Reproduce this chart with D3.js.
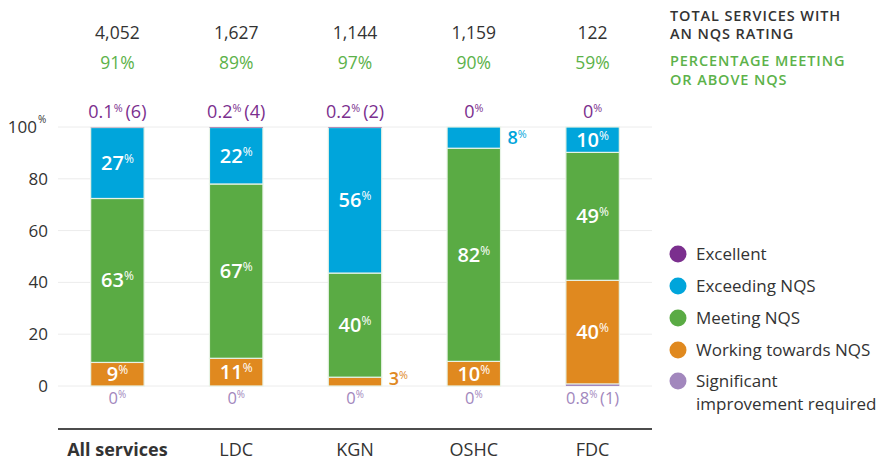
<!DOCTYPE html>
<html>
<head>
<meta charset="utf-8">
<script src="https://cdn.jsdelivr.net/npm/d3@7"></script>
<style>
  body { margin: 0; background: #fff; }
  svg { font-family: "Open Sans", sans-serif; }
</style>
</head>
<body>
<svg id="chart" width="883" height="462"></svg>
<script>
// data
const categories = ["All services", "LDC", "KGN", "OSHC", "FDC"];
const totalServices = ["4,052", "1,627", "1,144", "1,159", "122"];
const pctMeetingAbove = [91, 89, 97, 90, 59];

const significant = [0, 0, 0, 0, 0.8];
const working = [9.1, 10.7, 3.4, 9.5, 40.0];
const meeting = [63.3, 67.3, 40.2, 82.3, 49.4];
const exceeding = [27.4, 21.8, 56.2, 8.2, 9.8];
const excellent = [0.1, 0.2, 0.2, 0, 0];

const excellentCount = [6, 4, 2, 0, 0];
const significantCount = [0, 0, 0, 0, 1];

const yTicks = [0, 20, 40, 60, 80, 100];

const keys = ["significant", "working", "meeting", "exceeding", "excellent"];
const colors = {
  excellent: "#7b2f8e",
  exceeding: "#00a5db",
  meeting: "#5aab44",
  working: "#e0891f",
  significant: "#a287bd"
};
const legendItems = [
  { key: "excellent", lines: ["Excellent"] },
  { key: "exceeding", lines: ["Exceeding NQS"] },
  { key: "meeting", lines: ["Meeting NQS"] },
  { key: "working", lines: ["Working towards NQS"] },
  { key: "significant", lines: ["Significant", "improvement required"] }
];

const rows = categories.map((c, i) => ({
  cat: c,
  significant: significant[i],
  working: working[i],
  meeting: meeting[i],
  exceeding: exceeding[i],
  excellent: excellent[i]
}));

const svg = d3.select("#chart");

const x = d3.scaleBand().domain(categories).range([58, 652])
  .paddingInner(0.55).paddingOuter(0.275);
const y = d3.scaleLinear().domain([0, 100]).range([386, 127]);

// grid
svg.append("g").selectAll("line").data(yTicks).join("line")
  .attr("x1", 58).attr("x2", 652)
  .attr("y1", d => y(d)).attr("y2", d => y(d))
  .attr("stroke", "#ececec").attr("stroke-width", 1);

// y tick labels
const yAxis = svg.append("g").attr("class", "yaxis");
yTicks.forEach(t => {
  yAxis.append("text")
    .attr("x", t === 100 ? 37 : 48).attr("y", y(t)).attr("dy", "0.35em")
    .attr("text-anchor", "end").attr("fill", "#333").attr("font-size", 17)
    .text(t);
  if (t === 100) {
    yAxis.append("text").attr("x", 38).attr("y", y(t) - 4)
      .attr("font-size", 10).attr("fill", "#333").text("%");
  }
});

// stacked bars
const stack = d3.stack().keys(keys);
const series = stack(rows);

const layers = svg.append("g").selectAll("g").data(series).join("g")
  .attr("fill", d => colors[d.key]);
layers.selectAll("rect").data(d => d).join("rect")
  .attr("x", d => x(d.data.cat))
  .attr("width", x.bandwidth())
  .attr("y", d => y(d[1]))
  .attr("height", d => Math.max(0, y(d[0]) - y(d[1])))
  .attr("stroke", "#e8f3e6").attr("stroke-width", d => (d[1] - d[0]) > 1 ? 1.2 : 0);

// helper for "27%" with small %
function pct(g, px, py, num, opts) {
  const size = opts.size || 18;
  const t = g.append("text").attr("x", px).attr("y", py)
    .attr("text-anchor", opts.anchor || "middle")
    .attr("dy", "0.35em")
    .attr("fill", opts.fill).attr("font-size", size)
    .attr("font-weight", opts.weight || 400);
  t.append("tspan").text(num);
  t.append("tspan").attr("font-size", size * 0.6).attr("font-weight", 400)
    .attr("dy", -size * 0.35).text("%");
  if (opts.extra) {
    t.append("tspan").attr("dy", size * 0.35).attr("font-size", size).text("\u2009" + opts.extra);
  }
  return t;
}

const labels = svg.append("g");
series.forEach(s => {
  if (s.key === "excellent" || s.key === "significant") return;
  s.forEach(d => {
    const v = d[1] - d[0];
    const cx = x(d.data.cat) + x.bandwidth() / 2;
    const mid = y((d[0] + d[1]) / 2);
    if (v < 9) {
      pct(labels, x(d.data.cat) + x.bandwidth() + 7,
        s.key === "working" ? mid - 3 : y(d[1]) + 11,
        Math.round(v), { fill: colors[s.key], anchor: "start", weight: 600, size: 18 });
    } else {
      pct(labels, cx, mid, Math.round(v), { fill: "#fff", weight: 600, size: 20 });
    }
  });
});

// excellent on top, significant below
categories.forEach((c, i) => {
  const cx = x(c) + x.bandwidth() / 2;
  const ex = excellentCount[i] ? "(" + excellentCount[i] + ")" : null;
  pct(labels, cx, 112, excellent[i], { fill: colors.excellent, size: 18, extra: ex });
  const sg = significantCount[i] ? "(" + significantCount[i] + ")" : null;
  pct(labels, cx, 398, significant[i], { fill: colors.significant, size: 16.5, extra: sg });
});

// totals and green percentages
categories.forEach((c, i) => {
  const cx = x(c) + x.bandwidth() / 2;
  svg.append("text").attr("x", cx).attr("y", 33).attr("dy", "0.35em")
    .attr("text-anchor", "middle").attr("font-size", 17.5).attr("fill", "#333")
    .text(totalServices[i]);
  svg.append("text").attr("x", cx).attr("y", 63).attr("dy", "0.35em")
    .attr("text-anchor", "middle").attr("font-size", 17.5).attr("fill", "#5cb24a")
    .text(pctMeetingAbove[i] + "%");
});

// bottom axis
svg.append("line").attr("x1", 58).attr("x2", 652).attr("y1", 429).attr("y2", 429)
  .attr("stroke", "#111").attr("stroke-width", 1.5);
svg.append("g").selectAll("text").data(categories).join("text")
  .attr("x", d => x(d) + x.bandwidth() / 2).attr("y", 450).attr("dy", "0.35em")
  .attr("text-anchor", "middle").attr("font-size", 18).attr("fill", "#333")
  .attr("font-weight", (d, i) => i === 0 ? 700 : 400)
  .text(d => d);

// header text at right
const head = [
  { t: "TOTAL SERVICES WITH", y: 16, c: "#333" },
  { t: "AN NQS RATING", y: 34, c: "#333" },
  { t: "PERCENTAGE MEETING", y: 61, c: "#5cb24a" },
  { t: "OR ABOVE NQS", y: 80, c: "#5cb24a" }
];
svg.append("g").selectAll("text").data(head).join("text")
  .attr("x", 670).attr("y", d => d.y).attr("dy", "0.35em")
  .attr("font-size", 14.5).attr("font-weight", 600).attr("fill", d => d.c)
  .attr("letter-spacing", 0.9)
  .text(d => d.t);

// legend
const legendY = [254, 286, 318, 350, 381];
const lg = svg.append("g").selectAll("g").data(legendItems).join("g")
  .attr("transform", (d, i) => `translate(678,${legendY[i]})`);
lg.append("circle").attr("r", 8.5).attr("fill", d => colors[d.key]);
lg.each(function (d) {
  const g = d3.select(this);
  d.lines.forEach((l, j) => {
    g.append("text").attr("x", 18).attr("y", j * 23).attr("dy", "0.35em")
      .attr("font-size", 17).attr("fill", "#333").text(l);
  });
});
</script>
</body>
</html>
